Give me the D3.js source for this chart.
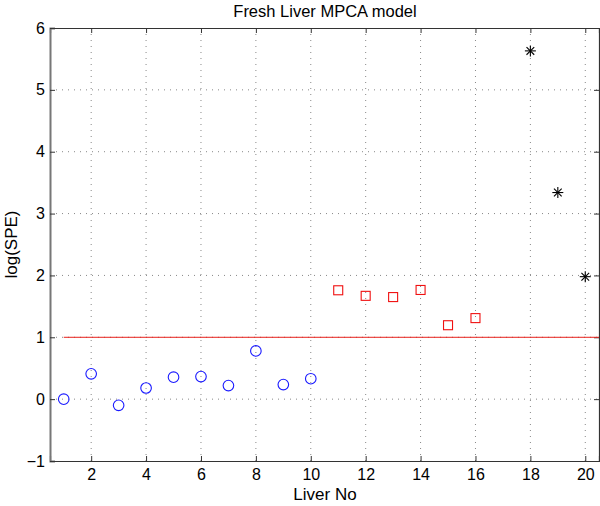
<!DOCTYPE html>
<html><head><meta charset="utf-8">
<script src="https://cdn.jsdelivr.net/npm/d3@7"></script>
<style>body{margin:0;background:#fff}text{font-family:"Liberation Sans",Arial,sans-serif;}</style>
</head><body>
<svg id="c" width="600" height="506"></svg>
<script>
const title = "Fresh Liver MPCA model";
const xLabel = "Liver No";
const yLabel = "log(SPE)";
const xTicks = [2,4,6,8,10,12,14,16,18,20];
const yTicks = [-1,0,1,2,3,4,5,6];
const normalNo = [1,2,3,4,5,6,7,8,9,10];
const normalVal = [0.0,0.41,-0.10,0.18,0.355,0.365,0.22,0.78,0.236,0.33];
const midNo = [11,12,13,14,15,16];
const midVal = [1.76,1.67,1.65,1.765,1.195,1.31];
const highNo = [18,19,20];
const highVal = [5.63,3.34,1.98];
const limitVal = 1;
const limitRange = [1,20.5];

const svg = d3.select("#c");
const L=50,R=599,T=28,B=461;
const x = d3.scaleLinear().domain([0.5,20.5]).range([L,R]);
const y = d3.scaleLinear().domain([-1,6]).range([B,T]);

// grid
const g = svg.append("g");
g.selectAll(".gx").data(xTicks).join("line")
 .attr("x1",d=>x(d)).attr("x2",d=>x(d)).attr("y1",T).attr("y2",B)
 .attr("stroke","#888").attr("stroke-width",1).attr("stroke-dasharray","1,5");
g.selectAll(".gy").data(yTicks.filter(d=>d>-1&&d<6)).join("line")
 .attr("y1",d=>y(d)).attr("y2",d=>y(d)).attr("x1",L).attr("x2",R)
 .attr("stroke","#888").attr("stroke-width",1).attr("stroke-dasharray","1,5");

// axes
const ax = svg.append("g").attr("transform",`translate(0,${B})`)
 .call(d3.axisBottom(x).tickValues(xTicks).tickSize(-5).tickPadding(8));
const axT = svg.append("g").attr("transform",`translate(0,${T})`)
 .call(d3.axisTop(x).tickValues(xTicks).tickSize(-5).tickFormat(""));
const ay = svg.append("g").attr("transform",`translate(${L},0)`)
 .call(d3.axisLeft(y).tickValues(yTicks).tickSize(-5).tickPadding(5).tickFormat(d=>d<0?"\u2212"+Math.abs(d):d));
const ayR = svg.append("g").attr("transform",`translate(${R},0)`)
 .call(d3.axisRight(y).tickValues(yTicks).tickSize(-5).tickFormat(""));
[ax,axT,ay,ayR].forEach(a=>{
  a.selectAll("path").attr("stroke","#333").attr("stroke-width",1.2);
  a.selectAll("line").attr("stroke","#333");
  a.selectAll("text").attr("fill","#000").style("font-size","16px").style("font-family","Liberation Sans, Arial, sans-serif");
});
ay.select(".domain").attr("stroke","#777").attr("stroke-width",2);

// limit line
svg.append("line").attr("x1",x(limitRange[0])).attr("x2",x(limitRange[1]))
 .attr("y1",y(limitVal)).attr("y2",y(limitVal)).attr("stroke","#e8211b").attr("stroke-width",1);

// circles
svg.selectAll(".c").data(normalNo).join("circle")
 .attr("cx",d=>x(d)).attr("cy",(d,i)=>y(normalVal[i])).attr("r",5.3)
 .attr("fill","none").attr("stroke","#1a1aff").attr("stroke-width",1.1);
// squares
svg.selectAll(".s").data(midNo).join("rect")
 .attr("x",d=>x(d)-4.5).attr("y",(d,i)=>y(midVal[i])-4.5).attr("width",9).attr("height",9)
 .attr("fill","none").attr("stroke","#f01010").attr("stroke-width",1.1);
// stars
const star = svg.selectAll(".st").data(highNo).join("g")
 .attr("transform",(d,i)=>`translate(${x(d)},${y(highVal[i])})`);
star.each(function(){
  const s=d3.select(this); const r=5.5;
  [[-r,0,r,0],[0,-r,0,r],[-r*0.7,-r*0.7,r*0.7,r*0.7],[-r*0.7,r*0.7,r*0.7,-r*0.7]].forEach(p=>{
    s.append("line").attr("x1",p[0]).attr("y1",p[1]).attr("x2",p[2]).attr("y2",p[3]).attr("stroke","#000").attr("stroke-width",1.1);
  });
});

// labels
svg.append("text").attr("x",325).attr("y",17).attr("text-anchor","middle").style("font-size","16.5px").text(title);
svg.append("text").attr("x",325).attr("y",500).attr("text-anchor","middle").style("font-size","17px").text(xLabel);
svg.append("text").attr("transform",`translate(17,${(T+B)/2}) rotate(-90)`).attr("text-anchor","middle").style("font-size","17px").text(yLabel);
</script>
</body></html>
